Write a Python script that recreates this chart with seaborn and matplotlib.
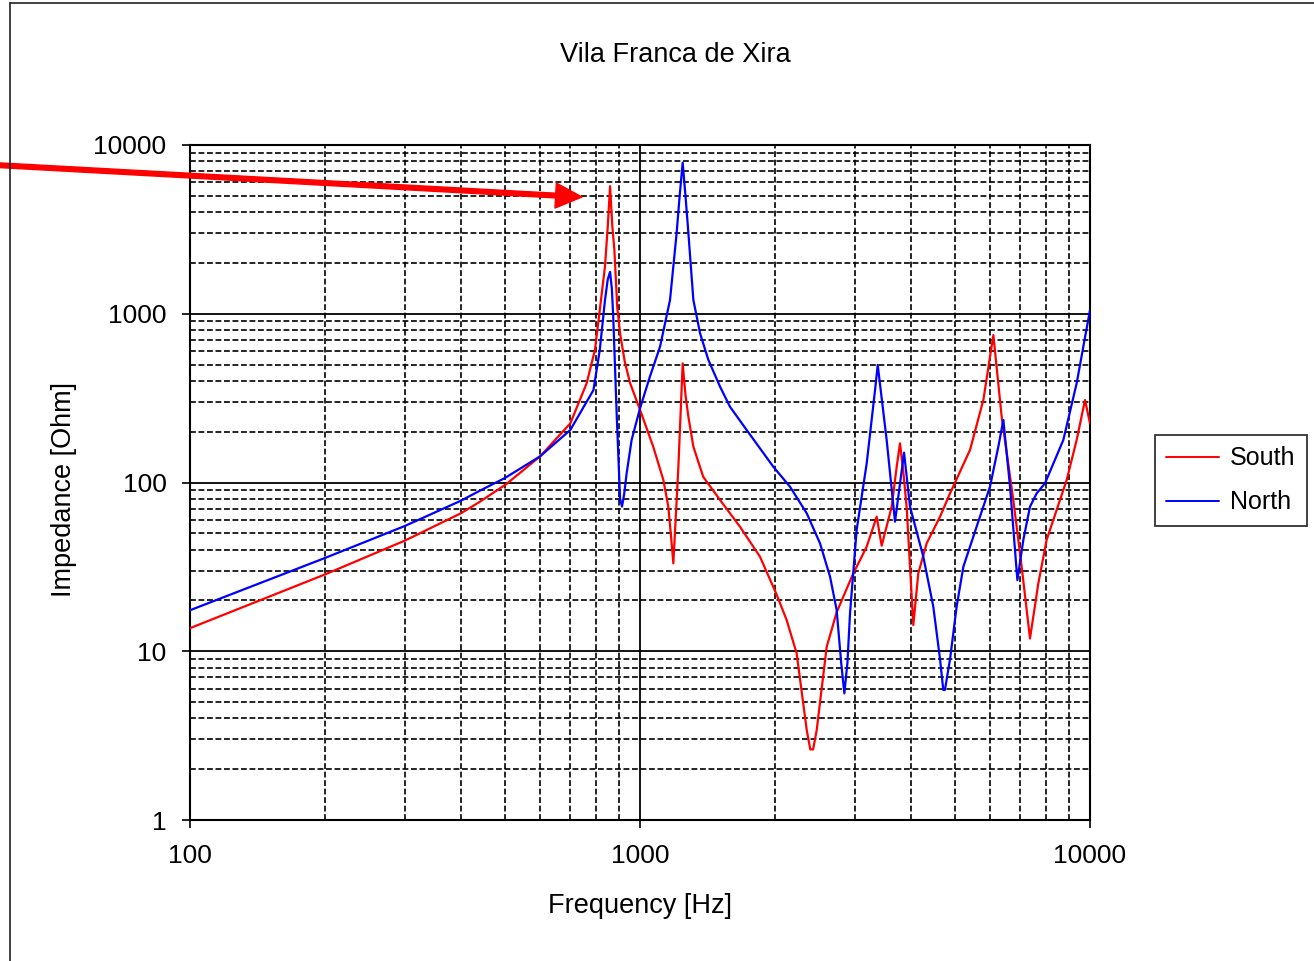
import numpy as np
import pandas as pd
import matplotlib
matplotlib.use("Agg")
import matplotlib.pyplot as plt
from matplotlib.ticker import LogLocator, FuncFormatter, NullFormatter
from matplotlib.lines import Line2D
import seaborn as sns

# ---- data ----
south_freq = [100, 200, 300, 400, 441, 505, 600, 700, 761, 794, 814, 836, 848, 858, 868,
              877, 890, 903, 925, 950, 1000, 1070, 1127, 1156, 1172, 1186, 1200, 1217,
              1244, 1262, 1281, 1314, 1382, 1506, 1668, 1848, 2007,
              2118, 2229, 2347, 2390, 2425, 2470, 2599, 2735, 2979, 3083, 3190, 3357,
              3444, 3625, 3719, 3782, 3837, 3913, 4049, 4154, 4336, 4642, 4887, 5412,
              5794, 6099, 6364, 6754, 7049, 7356, 7678, 8010, 8875, 9340, 9747, 10000]
south_imp = [13.7, 28.6, 45.2, 65.7, 77, 98, 143, 224, 387, 610, 1052, 1910, 3300, 5700, 3300,
             2400, 1100, 765, 520, 390, 270, 163, 103.5, 71.9, 48, 33.2, 60, 124,
             508, 330, 245, 163, 108, 78.8, 54.7, 36.3, 22,
             15.3, 9.72, 3.41, 2.62, 2.62, 3.41, 10.6, 17.0, 29.0, 34.7, 41.7, 62.7,
             42.2, 71.9, 124, 170.7, 124, 71.9, 14.3, 29.0, 43.6, 62.7, 86.3, 155.9,
             308, 748, 245, 78.8, 31.7, 11.9, 25.3, 45.7, 103.5, 178.6, 308, 224]

north_freq = [100, 200, 300, 400, 441, 500, 600, 700, 788, 814, 836, 848, 858, 866, 872,
              888, 903, 912, 922, 934, 958, 1000, 1052, 1108, 1166, 1206, 1225, 1244,
              1262, 1281, 1314, 1360, 1419, 1506, 1585, 1726, 1978, 2154, 2347, 2512,
              2644, 2735, 2800, 2845, 2890, 2929, 3030, 3190, 3329, 3375, 3533, 3687,
              3862, 3981, 4262, 4485, 4642, 4720, 4760, 4887, 5054, 5231, 5598, 5995,
              6256, 6419, 6642, 6896, 7110, 7356, 7613, 7943, 8724, 9340, 10000]
north_imp = [17.5, 35.8, 55.2, 78, 89.5, 106, 143, 204.7, 353, 610, 1206, 1600, 1770, 1400, 961,
             245, 80, 72, 85, 113.4, 178.6, 275, 424, 638, 1206, 3000, 5000, 7855,
             5000, 3000, 1206, 765, 532, 370, 281, 204.7, 124, 94.5, 65.7, 43.6,
             27.7, 17.6, 8.5, 5.63, 8.5, 16.8, 52.3, 130, 353, 497, 178.6, 58.6,
             150.2, 71.9, 36.3, 18.4, 9.0, 5.9, 5.9, 9.0, 18.4, 31.7, 54.7, 94.5,
             163, 234.7, 94.5, 26.4, 45.7, 71.9, 86.3, 98.9, 178.6, 387, 1052]

series_names = ["South", "North"]
series_colors = ["#FF0000", "#0000FF"]
y_ticks = [1, 10, 100, 1000, 10000]
x_ticks = [100, 1000, 10000]

df = pd.concat([
    pd.DataFrame({"Frequency": south_freq, "Impedance": south_imp, "Series": "South"}),
    pd.DataFrame({"Frequency": north_freq, "Impedance": north_imp, "Series": "North"}),
], ignore_index=True)

sns.set_style("white")
plt.rcParams["font.family"] = ["Liberation Sans", "DejaVu Sans"]
plt.rcParams["text.color"] = "black"
plt.rcParams["axes.labelcolor"] = "black"
plt.rcParams["xtick.color"] = "black"
plt.rcParams["ytick.color"] = "black"

W, H = 1314, 961
fig = plt.figure(figsize=(W / 100, H / 100), dpi=100)
ax = fig.add_axes([190 / W, 1 - 820 / H, 900 / W, 675 / H])

sns.lineplot(data=df, x="Frequency", y="Impedance", hue="Series",
             hue_order=series_names, palette=series_colors, estimator=None,
             sort=False, linewidth=1.6, ax=ax, zorder=5)

ax.set_xscale("log")
ax.set_yscale("log")
ax.set_xlim(100, 10000)
ax.set_ylim(1, 10000)
ax.set_xticks(x_ticks)
ax.set_yticks(y_ticks)
fmt = FuncFormatter(lambda v, p: f"{int(round(v))}")
ax.xaxis.set_major_formatter(fmt)
ax.yaxis.set_major_formatter(fmt)
ax.xaxis.set_minor_locator(LogLocator(base=10, subs=range(2, 10), numticks=20))
ax.yaxis.set_minor_locator(LogLocator(base=10, subs=range(2, 10), numticks=20))
ax.xaxis.set_minor_formatter(NullFormatter())
ax.yaxis.set_minor_formatter(NullFormatter())

ax.set_axisbelow(True)
ax.grid(which="major", color="black", linewidth=1.3, linestyle="-")
ax.grid(which="minor", color="black", linewidth=1.2, linestyle=(0, (3.5, 1.6)))

ax.tick_params(which="major", direction="out", length=6, width=1.2, color="black",
               labelsize=19, pad=11, left=True, bottom=True)
ax.tick_params(which="minor", length=0)
for s in ax.spines.values():
    s.set_color("black")
    s.set_linewidth(1.5)

ax.set_xlabel("Frequency [Hz]", fontsize=19.5)
ax.set_ylabel("Impedance [Ohm]", fontsize=19.5)
ax.xaxis.set_label_coords(0.5, -0.108)
ax.yaxis.set_label_coords(-0.126, 0.49)

fig.text(675 / W, 1 - 55 / H, "Vila Franca de Xira", ha="center", va="center", fontsize=19.5)

handles, labels = ax.get_legend_handles_labels()
if ax.get_legend() is not None:
    ax.get_legend().remove()
leg = ax.legend(handles, labels, loc="upper left",
                bbox_to_anchor=(1155 / W, 1 - 435 / H), bbox_transform=fig.transFigure,
                frameon=True, fancybox=False, fontsize=18, handlelength=2.1,
                handletextpad=0.45, borderaxespad=0, borderpad=0.45, labelspacing=0.8)
leg.get_frame().set_edgecolor("black")
leg.get_frame().set_linewidth(1.3)
for l in leg.get_lines():
    l.set_linewidth(1.4)

# outer chart-area frame
fig.add_artist(Line2D([10 / W, 10 / W], [0, 1 - 3 / H], transform=fig.transFigure,
                      color="#222222", linewidth=1.2))
fig.add_artist(Line2D([10 / W, 1], [1 - 3 / H, 1 - 3 / H], transform=fig.transFigure,
                      color="#222222", linewidth=1.2))

# red annotation arrow
ax.annotate("", xy=(582, H - 197), xycoords="figure pixels",
            xytext=(-5, H - 165), textcoords="figure pixels",
            arrowprops=dict(facecolor="#FF0000", edgecolor="#FF0000", width=3.4,
                            headwidth=18, headlength=19, shrink=0),
            annotation_clip=False, zorder=10)

fig.savefig("out.png", dpi=100)
